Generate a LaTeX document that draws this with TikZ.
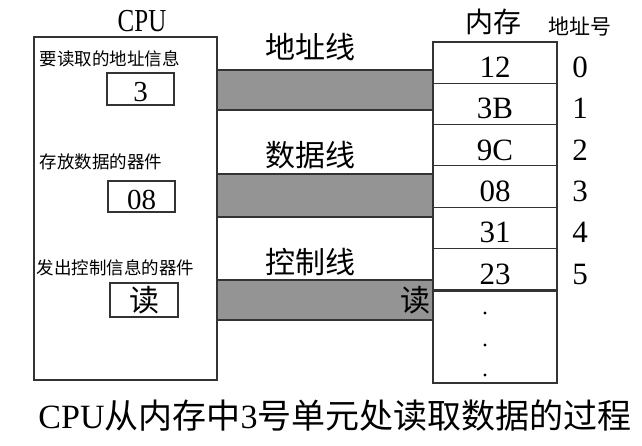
\documentclass[tikz,border=0pt]{standalone}
\usepackage{fontspec}
\setmainfont{Liberation Serif}
\newfontfamily\cjk{Noto Sans CJK SC}
\newfontfamily\narrowserif[FakeStretch=0.78]{Liberation Serif}

\begin{document}
\begin{tikzpicture}[x=1pt,y=-1pt,line width=1.2pt,
  cell/.style={draw=black!80,minimum width=124pt,minimum height=41.3pt,inner sep=0pt,text height=30pt,text depth=0pt,font=\fontsize{31}{31}\selectfont},
  reg/.style={draw=black!80,minimum width=67pt,minimum height=32pt,inner sep=0pt,text height=25.6pt,text depth=0pt,font=\fontsize{29}{29}\selectfont},
  bus/.style={draw=black!80,fill=black!42},
  tag/.style={font=\cjk\fontsize{17.5}{17.5}\selectfont,anchor=west,inner sep=0pt},
  busname/.style={font=\cjk\fontsize{30}{30}\selectfont}]
\useasboundingbox (0,0) rectangle (642,446);

% CPU
\node[draw=black!80,minimum width=183pt,minimum height=343pt,inner sep=0pt] (cpu) at (125.5,208.5) {};
\node at (142,21) (cputitle) {\narrowserif\fontsize{32}{32}\selectfont CPU};

\node[tag] (addrtag) at (39,59) {要读取的地址信息};
\node[reg] (addrreg) at (140.5,89) {3};
\node[tag] (datatag) at (39,162) {存放数据的器件};
\node[reg,minimum height=31pt] (datareg) at (141.5,196.5) {08};
\node[tag] (ctrltag) at (36,268) {发出控制信息的器件};
\node[reg,minimum width=68pt,minimum height=34pt,text height=,text depth=,font=\cjk\fontsize{30}{30}\selectfont] (ctrlreg) at (144,300) {读};

% memory
\node at (493,22) (memtitle) {\cjk\fontsize{28}{28}\selectfont 内存};
\node at (580,27) (addrtitle) {\cjk\fontsize{21}{21}\selectfont 地址号};
\foreach \v [count=\i from 0] in {12,3B,9C,08,31,23}
{
  \node[cell] (mem\i) at (495,62.65+41.3*\i) {\v};
  \node[text height=30pt,text depth=0pt,inner sep=0pt,font=\fontsize{31}{31}\selectfont] (num\i) at (580,62.65+41.3*\i) {\i};
}
\node[draw=black!80,minimum width=124pt,minimum height=92pt,inner sep=0pt,anchor=north] (memrest) at (mem5.south) {};
\foreach \y in {313,345,375}
  \fill (485,\y) circle (1.7pt);

% buses
\filldraw[bus] (cpu.east |- 0,70) rectangle (mem0.west |- 0,110);
\filldraw[bus] (cpu.east |- 0,174) rectangle (mem0.west |- 0,217);
\filldraw[bus] (cpu.east |- 0,280) rectangle (mem0.west |- 0,320);
\node[busname] (addrbus) at (310,47) {地址线};
\node[busname] (databus) at (310,155) {数据线};
\node[busname] (ctrlbus) at (310,262) {控制线};
\node[busname,anchor=east,inner sep=1pt] (readsig) at (432,300) {读};

% caption
\node (caption) at (335,416) {\fontsize{34}{34}\selectfont CPU{\cjk 从内存中}3{\cjk 号单元处读取数据的过程}};

\end{tikzpicture}
\end{document}
